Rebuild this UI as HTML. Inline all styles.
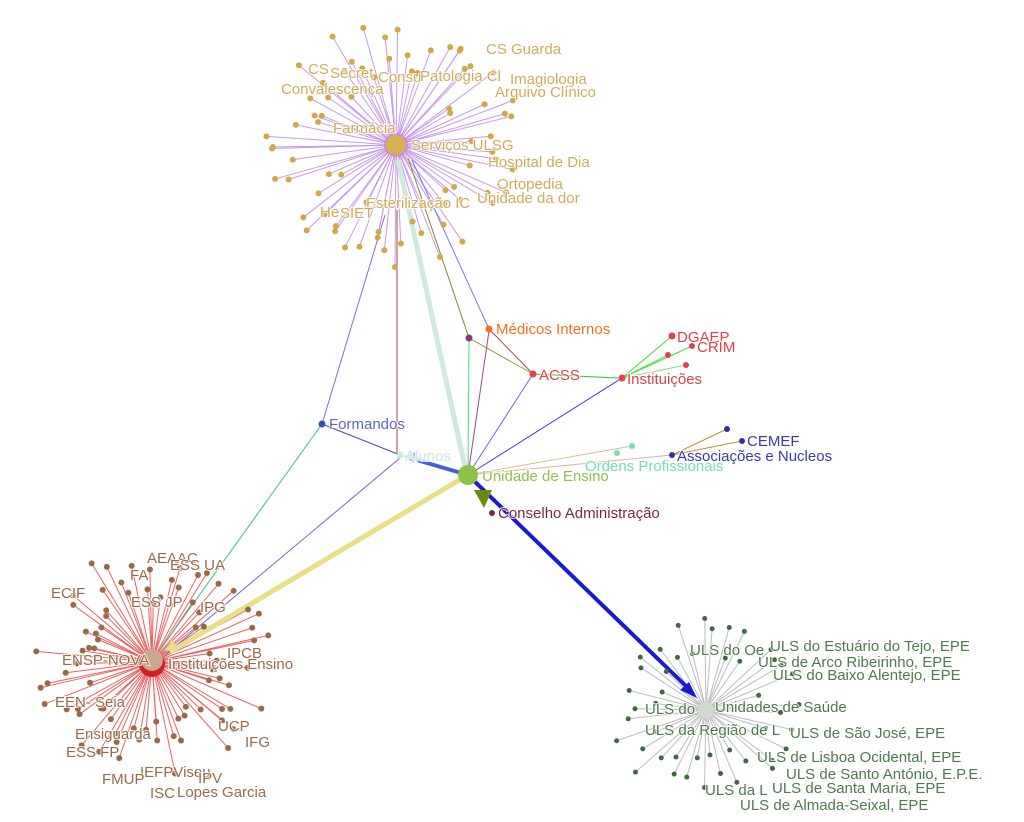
<!DOCTYPE html>
<html><head><meta charset="utf-8"><style>
html,body{margin:0;padding:0;background:#fff;width:1024px;height:822px;overflow:hidden}
svg{display:block}
text{font-family:"Liberation Sans",sans-serif;font-size:15px;paint-order:stroke;stroke:#fff;stroke-width:2px;stroke-opacity:.8}
.g{fill:#d2aa55}.b{fill:#9a6a48}.u{fill:#4e7a4e}
</style></head><body>
<svg id="s" width="1024" height="822" viewBox="0 0 1024 822" xmlns="http://www.w3.org/2000/svg">
<g id="spokes" opacity=".7"></g>
<g fill="none" stroke-width="1">
<line x1="322" y1="424" x2="385" y2="215" stroke="#7b6fd6"/>
<line x1="322" y1="424" x2="160" y2="650" stroke="#40c080"/>
<line x1="322" y1="424" x2="400" y2="455" stroke="#5b3fa0"/>
<line x1="397" y1="210" x2="397" y2="455" stroke="#a04848"/>
<line x1="400" y1="458" x2="165" y2="655" stroke="#6a6ad0"/>
<line x1="408" y1="158" x2="469" y2="338" stroke="#7a8a30"/>
<line x1="412" y1="160" x2="489" y2="329" stroke="#7a7ae0"/>
<line x1="469" y1="338" x2="533" y2="374" stroke="#8aa040"/>
<line x1="489" y1="329" x2="533" y2="374" stroke="#a04848"/>
<line x1="468" y1="475" x2="469" y2="340" stroke="#40e080"/>
<line x1="468" y1="475" x2="489" y2="331" stroke="#a04890"/>
<line x1="468" y1="475" x2="533" y2="374" stroke="#6a6ae0"/>
<line x1="468" y1="475" x2="622" y2="378" stroke="#3a3ad0"/>
<line x1="533" y1="374" x2="618" y2="378" stroke="#20d020"/>
<line x1="622" y1="378" x2="672" y2="336" stroke="#40e040"/>
<line x1="622" y1="378" x2="692" y2="346" stroke="#40e040"/>
<line x1="622" y1="378" x2="668" y2="355" stroke="#40e040"/>
<line x1="622" y1="378" x2="686" y2="365" stroke="#80e080"/>
<line x1="468" y1="475" x2="632" y2="446" stroke="#d8c090"/>
<line x1="468" y1="475" x2="672" y2="455" stroke="#e0b0a0"/>
<line x1="672" y1="455" x2="727" y2="429" stroke="#c09030"/>
<line x1="672" y1="455" x2="742" y2="441" stroke="#c09030"/>
</g>
<line x1="466" y1="472" x2="398" y2="160" stroke="#cfe8e0" stroke-width="5"/>
<line x1="466" y1="476" x2="170" y2="652" stroke="#e8e088" stroke-width="5"/>
<line x1="468" y1="475" x2="690" y2="690" stroke="#1a1ad0" stroke-width="4"/>
<polygon points="697,698 680,690 689,682" fill="#1a1ad0"/>
<line x1="468" y1="475" x2="410" y2="458" stroke="#4060e0" stroke-width="4"/>
<polygon points="404,456 416,452 414,463" fill="#a0b0f0"/>
<polygon points="484,508 474,490 492,490" fill="#6b8a10"/>
<polygon points="165,651 172,640 178,648" fill="#e8e088"/>
<g id="dots"></g>
<circle cx="396" cy="145" r="12" fill="#c07ad0" opacity=".6"/>
<circle cx="396" cy="145" r="10" fill="#d8b04f"/>
<circle cx="152" cy="664" r="13" fill="#d42020"/>
<circle cx="152" cy="660" r="11" fill="#c8a890"/>
<circle cx="706" cy="710" r="8" fill="#d0d8d0"/>
<circle cx="468" cy="475" r="10" fill="#8bc34a"/>
<circle cx="322" cy="424" r="3.5" fill="#3a50b0"/>
<circle cx="400" cy="455" r="3.5" fill="#c8ecd8"/>
<circle cx="469" cy="338" r="3.5" fill="#8a3a70"/>
<circle cx="489" cy="329" r="3.5" fill="#f07020"/>
<circle cx="533" cy="374" r="3.5" fill="#e04050"/>
<circle cx="622" cy="378" r="3.5" fill="#e04050"/>
<circle cx="672" cy="336" r="3.5" fill="#e04050"/>
<circle cx="692" cy="346" r="3" fill="#e04050"/>
<circle cx="668" cy="355" r="3" fill="#e04050"/>
<circle cx="686" cy="365" r="3" fill="#e04050"/>
<circle cx="632" cy="446" r="3" fill="#70e0b0"/>
<circle cx="617" cy="453" r="3" fill="#70e0b0"/>
<circle cx="672" cy="455" r="3" fill="#3030a0"/>
<circle cx="727" cy="429" r="3" fill="#3030a0"/>
<circle cx="742" cy="441" r="3" fill="#3030a0"/>
<circle cx="492" cy="513" r="3" fill="#7a2a40"/>
<text x="329" y="429" fill="#5a68c0">Formandos</text>
<text x="405" y="461" fill="#c8ecd8">Alunos</text>
<text x="496" y="334" fill="#f07020">Médicos Internos</text>
<text x="539" y="380" fill="#e04050">ACSS</text>
<text x="627" y="384" fill="#e04050">Instituições</text>
<text x="677" y="342" fill="#e04050">DGAEP</text>
<text x="697" y="352" fill="#e04050">CRIM</text>
<text x="482" y="481" fill="#8bc34a">Unidade de Ensino</text>
<text x="585" y="471" fill="#70e0b0">Ordens Profissionais</text>
<text x="677" y="461" fill="#3a3ab0">Associações e Nucleos</text>
<text x="747" y="446" fill="#3a3ab0">CEMEF</text>
<text x="498" y="518" fill="#7a2a40">Conselho Administração</text>
<g class="g">
<text x="486" y="54">CS Guarda</text>
<text x="308" y="74">CS</text>
<text x="330" y="78">Secret</text>
<text x="378" y="82">Consu</text>
<text x="420" y="81">Patologia Cl</text>
<text x="510" y="84">Imagiologia</text>
<text x="281" y="94">Convalescença</text>
<text x="495" y="97">Arquivo Clínico</text>
<text x="333" y="133">Farmácia</text>
<text x="411" y="150">Serviços ULSG</text>
<text x="488" y="167">Hospital de Dia</text>
<text x="497" y="189">Ortopedia</text>
<text x="477" y="203">Unidade da dor</text>
<text x="366" y="208">Esterilização IC</text>
<text x="320" y="217">He</text>
<text x="340" y="218">SIET</text>
</g>
<g class="b">
<text x="147" y="563">AEAAC</text>
<text x="130" y="580">FA</text>
<text x="170" y="570">ESS UA</text>
<text x="51" y="598">ECIF</text>
<text x="131" y="607">ESS JP</text>
<text x="200" y="612">IPG</text>
<text x="227" y="658">IPCB</text>
<text x="62" y="665">ENSP-NOVA</text>
<text x="168" y="669">Instituições Ensino</text>
<text x="55" y="707">EEN- Seia</text>
<text x="218" y="731">UCP</text>
<text x="75" y="739">Ensiguarda</text>
<text x="245" y="747">IFG</text>
<text x="66" y="757">ESS FP</text>
<text x="140" y="777">IEFPViseu</text>
<text x="198" y="783">IPV</text>
<text x="102" y="784">FMUP</text>
<text x="150" y="798">ISC</text>
<text x="177" y="797">Lopes Garcia</text>
</g>
<g class="u">
<text x="690" y="655">ULS  do Oe</text>
<text x="770" y="651">ULS  do Estuário do Tejo, EPE</text>
<text x="758" y="667">ULS  de Arco Ribeirinho, EPE</text>
<text x="773" y="680">ULS  do Baixo Alentejo, EPE</text>
<text x="645" y="714">ULS  do</text>
<text x="715" y="712">Unidades de Saúde</text>
<text x="645" y="735">ULS  da Região de L</text>
<text x="790" y="738">ULS  de São José, EPE</text>
<text x="757" y="762">ULS  de Lisboa Ocidental, EPE</text>
<text x="786" y="779">ULS  de Santo António, E.P.E.</text>
<text x="705" y="795">ULS  da L</text>
<text x="772" y="793">ULS  de Santa Maria, EPE</text>
<text x="740" y="810">ULS  de Almada-Seixal, EPE</text>
</g>
</svg>
<script>
(function(){
var NS="http://www.w3.org/2000/svg",sp=document.getElementById("spokes"),dt=document.getElementById("dots");
function rnd(i){var x=Math.sin(i*12.9898+78.233)*43758.5453;return x-Math.floor(x);}
function hub(cx,cy,n,rmin,rmax,stroke,fill,r,seed,sx,sy){
 for(var i=0;i<n;i++){
  var a=i/n*Math.PI*2+rnd(seed+i)*0.1,rr=rmin+(rmax-rmin)*rnd(seed+i*3+7);
  var x=cx+Math.cos(a)*rr*sx,y=cy+Math.sin(a)*rr*sy;
  var l=document.createElementNS(NS,"line");
  l.setAttribute("x1",cx);l.setAttribute("y1",cy);l.setAttribute("x2",x);l.setAttribute("y2",y);
  l.setAttribute("stroke",stroke);l.setAttribute("stroke-width","1");sp.appendChild(l);
  var c=document.createElementNS(NS,"circle");
  c.setAttribute("cx",x);c.setAttribute("cy",y);c.setAttribute("r",r);c.setAttribute("fill",fill);dt.appendChild(c);
 }
}
hub(396,145,75,60,130,"#b070e0","#d0a84a",3,1,1.0,0.97);
hub(152,662,80,50,115,"#e02020","#9a6a48",3,200,1.05,1.0);
hub(706,710,45,45,95,"#a0a0a8","#3e6a3e",2.5,500,1.0,1.0);
})();
</script>
</body></html>
